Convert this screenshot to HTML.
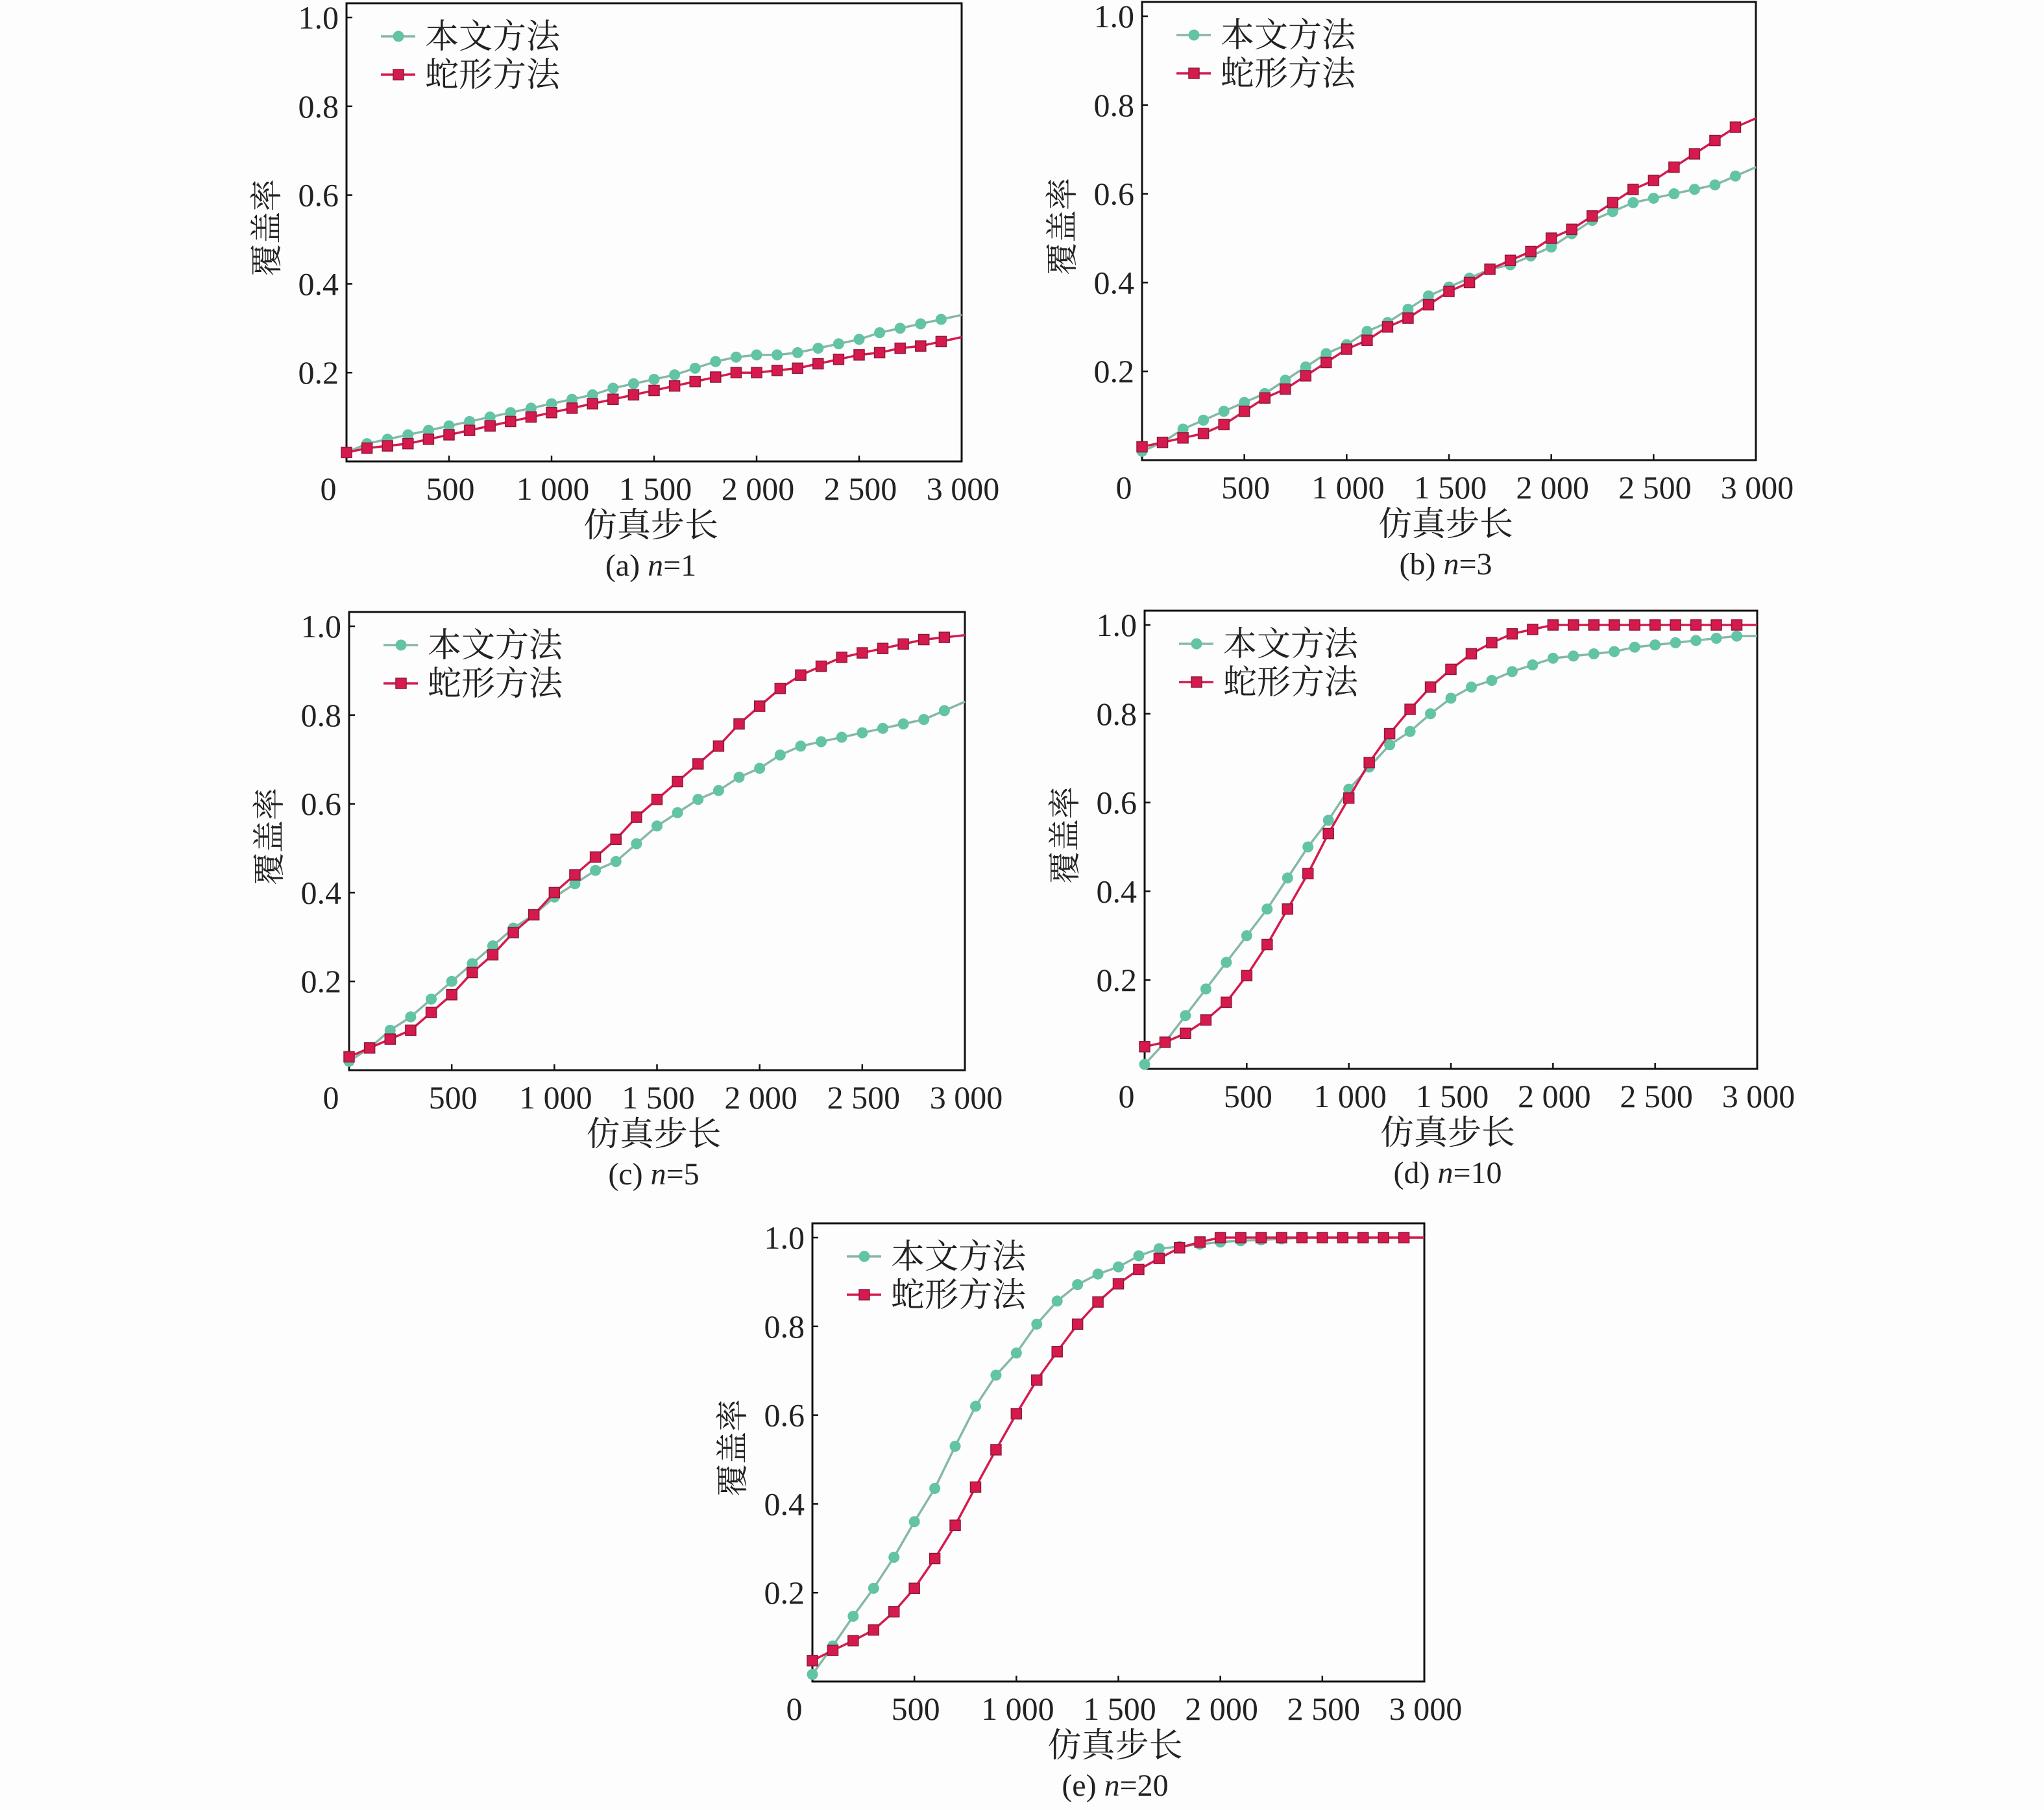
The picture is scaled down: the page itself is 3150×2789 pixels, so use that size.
<!DOCTYPE html>
<html><head><meta charset="utf-8"><style>
html,body{margin:0;padding:0;background:#fdfdfd;}
svg{display:block;}
</style></head><body>
<svg id="fig" width="3150" height="2789" viewBox="0 0 3150 2789" xmlns="http://www.w3.org/2000/svg"></svg>
<script>
const xSteps = [0,100,200,300,400,500,600,700,800,900,1000,1100,1200,1300,1400,1500,1600,1700,1800,1900,2000,2100,2200,2300,2400,2500,2600,2700,2800,2900,3000];
const xTicks = [0,500,1000,1500,2000,2500,3000];
const xTickLabels = ["0","500","1 000","1 500","2 000","2 500","3 000"];
const yTicks = [0.2,0.4,0.6,0.8,1.0];
const yTickLabels = ["0.2","0.4","0.6","0.8","1.0"];
const seriesNames = ["本文方法","蛇形方法"];
const panelNames = ["a","b","c","d","e"];
const panelN = ["1","3","5","10","20"];
const oursA = [0.02,0.04,0.05,0.06,0.07,0.08,0.09,0.10,0.11,0.12,0.13,0.14,0.15,0.165,0.175,0.185,0.195,0.21,0.225,0.235,0.24,0.24,0.245,0.255,0.265,0.275,0.29,0.30,0.31,0.32,0.33];
const snakeA = [0.02,0.03,0.035,0.04,0.05,0.06,0.07,0.08,0.09,0.10,0.11,0.12,0.13,0.14,0.15,0.16,0.17,0.18,0.19,0.20,0.20,0.205,0.21,0.22,0.23,0.24,0.245,0.255,0.26,0.27,0.28];
const oursB = [0.02,0.04,0.07,0.09,0.11,0.13,0.15,0.18,0.21,0.24,0.26,0.29,0.31,0.34,0.37,0.39,0.41,0.43,0.44,0.46,0.48,0.51,0.54,0.56,0.58,0.59,0.60,0.61,0.62,0.64,0.66];
const snakeB = [0.03,0.04,0.05,0.06,0.08,0.11,0.14,0.16,0.19,0.22,0.25,0.27,0.30,0.32,0.35,0.38,0.40,0.43,0.45,0.47,0.50,0.52,0.55,0.58,0.61,0.63,0.66,0.69,0.72,0.75,0.77];
const oursC = [0.02,0.05,0.09,0.12,0.16,0.20,0.24,0.28,0.32,0.35,0.39,0.42,0.45,0.47,0.51,0.55,0.58,0.61,0.63,0.66,0.68,0.71,0.73,0.74,0.75,0.76,0.77,0.78,0.79,0.81,0.83];
const snakeC = [0.03,0.05,0.07,0.09,0.13,0.17,0.22,0.26,0.31,0.35,0.40,0.44,0.48,0.52,0.57,0.61,0.65,0.69,0.73,0.78,0.82,0.86,0.89,0.91,0.93,0.94,0.95,0.96,0.97,0.975,0.98];
const oursD = [0.01,0.06,0.12,0.18,0.24,0.30,0.36,0.43,0.50,0.56,0.63,0.68,0.73,0.76,0.80,0.835,0.86,0.875,0.895,0.91,0.925,0.93,0.935,0.94,0.95,0.955,0.96,0.965,0.97,0.975,0.975];
const snakeD = [0.05,0.06,0.08,0.11,0.15,0.21,0.28,0.36,0.44,0.53,0.61,0.69,0.755,0.81,0.86,0.90,0.935,0.96,0.98,0.99,1,1,1,1,1,1,1,1,1,1,1];
const oursE = [0.016,0.08,0.147,0.21,0.28,0.36,0.435,0.53,0.62,0.69,0.74,0.805,0.857,0.894,0.918,0.934,0.959,0.975,0.98,0.985,0.99,0.993,0.995,0.997,1,1,1,1,1,1,1];
const snakeE = [0.047,0.07,0.092,0.116,0.157,0.21,0.277,0.352,0.438,0.522,0.603,0.679,0.743,0.805,0.855,0.896,0.928,0.953,0.977,0.99,1,1,1,1,1,1,1,1,1,1,1];
const oursAll = [oursA,oursB,oursC,oursD,oursE];
const snakeAll = [snakeA,snakeB,snakeC,snakeD,snakeE];

const layout = [
  {L:534,R:1482,B:711},{L:1760,R:2706,B:709},{L:538,R:1487,B:1649},{L:1764,R:2708,B:1647},{L:1252,R:2195,B:2591}
];
const NS="http://www.w3.org/2000/svg";
const svg=document.getElementById('fig');
const TEAL="#62c3a5", TEALLINE="#86b8a6", RED="#d61a4e", REDEDGE="#8e1a3a";
const serif='"Liberation Serif","Noto Serif CJK SC",serif';
function mk(tag,attrs,parent){const e=document.createElementNS(NS,tag);for(const k in attrs)e.setAttribute(k,attrs[k]);(parent||svg).appendChild(e);return e;}

layout.forEach((p,pi)=>{
  const g=mk('g',{});
  
  
  const T=p.B-706;
  const xs=v=>p.L+(v/3000)*(p.R-p.L);
  const ys=v=>p.B-v*684;
  const frame=mk('rect',{x:p.L,y:T,width:p.R-p.L,height:p.B-T,fill:'#fdfdfd',stroke:'#111','stroke-width':3},g);
  
  
  xTicks.forEach((t,i)=>{
    if(i>0&&i<xTicks.length-1){
      const tk=mk('line',{x1:xs(t),x2:xs(t),y1:p.B,y2:p.B-9,stroke:'#111','stroke-width':2.5},g);
      
      
    }
    const tx=mk('text',{x:i===0?p.L-28:xs(t)+2,y:p.B+59,'text-anchor':'middle','font-family':serif,'font-size':50,fill:'#222'},g);
    tx.textContent=xTickLabels[i];
    
    
  });
  yTicks.forEach((t,i)=>{
    const tk=mk('line',{x1:p.L,x2:p.L+9,y1:ys(t),y2:ys(t),stroke:'#111','stroke-width':2.5},g);
    
    
    const tx=mk('text',{x:p.L-12,y:ys(t)+17,'text-anchor':'end','font-family':serif,'font-size':50,fill:'#222'},g);
    tx.textContent=yTickLabels[i];
    
    
  });
  const yt=mk('text',{x:0,y:0,'text-anchor':'middle','font-family':serif,'font-size':50,fill:'#222',transform:`translate(${p.L-106},${p.B-360}) rotate(-90)`},g);
  yt.textContent='覆盖率';
  
  
  const xt=mk('text',{x:(p.L+p.R)/2-5,y:p.B+116,'text-anchor':'middle','font-family':serif,'font-size':52,fill:'#222'},g);
  xt.textContent='仿真步长';
  
  
  const cap=mk('text',{x:(p.L+p.R)/2-5,y:p.B+176,'text-anchor':'middle','font-family':serif,'font-size':48,fill:'#222'},g);
  cap.innerHTML='('+panelNames[pi]+') <tspan font-style="italic">n</tspan>='+panelN[pi];
  
  
  [[oursAll[pi],0],[snakeAll[pi],1]].forEach(([vals,si])=>{
    const col=si===0?TEAL:RED;
    const pts=vals.map((v,i)=>xs(xSteps[i])+','+ys(v)).join(' ');
    const line=mk('polyline',{points:pts,fill:'none',stroke:si===0?TEALLINE:RED,'stroke-width':3.5},g);
    
    
    vals.forEach((v,i)=>{
      if(i>=30)return;
      let m;
      if(si===0){m=mk('circle',{cx:xs(xSteps[i]),cy:ys(v),r:8.5,fill:col},g);}
      else{m=mk('rect',{x:xs(xSteps[i])-8,y:ys(v)-8,width:16,height:16,fill:col,stroke:REDEDGE,'stroke-width':1.5},g);}
      
      
    });
  });
  seriesNames.forEach((nm,si)=>{
    const ly=T+51+si*59;
    const lg=mk('g',{},g);
    
    
    mk('line',{x1:p.L+53,x2:p.L+106,y1:ly,y2:ly,stroke:si===0?TEALLINE:RED,'stroke-width':3.5},lg);
    if(si===0)mk('circle',{cx:p.L+80,cy:ly,r:8.5,fill:TEAL},lg);
    else mk('rect',{x:p.L+72,y:ly-8,width:16,height:16,fill:RED,stroke:REDEDGE,'stroke-width':1.5},lg);
    const t=mk('text',{x:p.L+121,y:ly+18,'font-family':serif,'font-size':52,fill:'#222'},lg);
    t.textContent=nm;
  });
});
</script>
</body></html>
